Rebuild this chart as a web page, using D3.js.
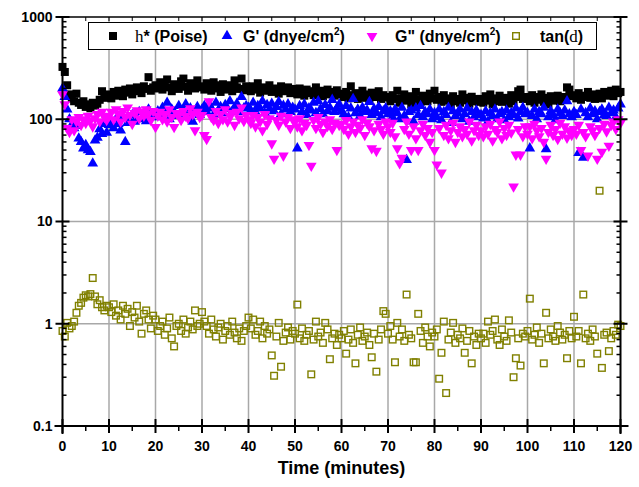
<!DOCTYPE html>
<html>
<head>
<meta charset="utf-8">
<script src="https://cdn.jsdelivr.net/npm/d3@7"></script>
<style>
  body { margin: 0; background: #fff; }
  text { font-family: "Liberation Sans", Arial, sans-serif; font-weight: bold; fill: #000; }
</style>
</head>
<body>
<div id="chart"></div>
<script>
// sampling times (minutes)
const times = [
  0,0.5,1,1.5,2,2.5,3,3.5,4,4.5,5,5.5,6,6.5,7,7.5,8,8.5,9,9.5,
  10,10.5,11,11.5,12,12.5,13,13.5,14,14.5,15,15.5,16,16.5,17,17.5,18,18.5,19,19.5,
  20,20.5,21,21.5,22,22.5,23,23.5,24,24.5,25,25.5,26,26.5,27,27.5,28,28.5,29,29.5,
  30,30.5,31,31.5,32,32.5,33,33.5,34,34.5,35,35.5,36,36.5,37,37.5,38,38.5,39,39.5,
  40,40.5,41,41.5,42,42.5,43,43.5,44,44.5,45,45.5,46,46.5,47,47.5,48,48.5,49,49.5,
  50,50.5,51,51.5,52,52.5,53,53.5,54,54.5,55,55.5,56,56.5,57,57.5,58,58.5,59,59.5,
  60,60.5,61,61.5,62,62.5,63,63.5,64,64.5,65,65.5,66,66.5,67,67.5,68,68.5,69,69.5,
  70,70.5,71,71.5,72,72.5,73,73.5,74,74.5,75,75.5,76,76.5,77,77.5,78,78.5,79,79.5,
  80,80.5,81,81.5,82,82.5,83,83.5,84,84.5,85,85.5,86,86.5,87,87.5,88,88.5,89,89.5,
  90,90.5,91,91.5,92,92.5,93,93.5,94,94.5,95,95.5,96,96.5,97,97.5,98,98.5,99,99.5,
  100,100.5,101,101.5,102,102.5,103,103.5,104,104.5,105,105.5,106,106.5,107,107.5,108,108.5,109,109.5,
  110,110.5,111,111.5,112,112.5,113,113.5,114,114.5,115,115.5,116,116.5,117,117.5,118,118.5,119,119.5,
  120
];

// h* (Poise)
const etaStar = [
  325,290,215,175,160,150,178,145,138,150,132,140,128,145,136,142,155,188,162,170,
  175,160,185,170,190,178,168,195,182,200,175,188,205,192,180,210,198,258,190,205,
  215,200,230,195,210,245,205,188,220,212,198,235,250,208,190,225,215,200,240,205,
  210,195,225,205,190,230,215,200,185,220,205,195,215,188,240,205,198,250,192,210,
  200,188,210,195,225,182,198,205,190,215,185,200,192,178,210,195,188,205,180,198,
  185,175,200,190,170,195,180,188,172,205,178,190,168,182,195,175,185,170,192,178,
  175,165,185,160,210,172,180,158,168,190,162,175,155,182,170,165,188,158,172,163,
  165,150,172,158,190,145,160,175,152,168,140,162,185,155,148,170,158,150,178,160,
  190,155,165,148,172,152,160,140,168,150,158,145,175,153,162,142,166,150,158,148,
  158,145,168,152,175,140,160,150,170,148,162,155,142,172,150,165,188,195,158,165,
  160,150,172,145,165,155,175,148,162,140,168,152,158,170,150,160,165,205,195,168,
  172,160,180,155,170,165,185,162,175,158,168,178,160,185,170,175,190,168,195,180,
  185
];

// G' (dnye/cm2)
const gPrime = [
  200,165,125,100,88,82,86,65,60,52,56,50,48,37,62,66,80,72,90,74,
  88,95,82,100,90,78,105,60,92,98,110,95,102,118,100,108,96,125,105,112,
  110,120,105,130,115,145,100,125,118,108,135,112,122,140,105,128,95,118,132,110,
  125,135,118,140,128,110,145,122,132,115,138,126,150,120,130,142,118,165,128,135,
  130,122,145,118,135,128,150,115,138,125,142,120,132,148,112,136,125,140,118,130,
  125,52,135,118,140,110,128,122,145,115,150,126,112,138,120,130,155,118,128,140,
  120,112,135,105,128,158,115,125,108,130,118,122,148,110,126,115,132,105,120,128,
  112,120,105,125,115,100,130,108,40,118,122,95,128,110,135,105,118,112,125,100,
  115,105,125,98,118,110,130,92,120,108,115,125,100,112,128,95,118,105,122,110,
  110,102,120,95,115,108,125,100,112,118,98,122,105,115,110,128,102,118,130,112,
  115,52,108,125,100,118,112,130,51,105,120,110,98,125,115,108,122,150,112,105,
  118,110,47,125,42,115,105,128,112,120,100,118,125,110,108,130,115,122,105,128,
  140
];

// G" (dnye/cm2)
const gDouble = [
  175,140,82,75,100,78,95,105,88,100,92,108,97,85,102,112,95,118,105,98,
  108,118,100,125,112,95,120,105,130,110,90,115,122,102,118,108,125,112,98,120,
  84,108,118,100,112,95,125,105,84,115,110,98,120,108,102,128,112,78,118,105,
  110,70,64,150,105,98,120,92,112,100,125,95,108,115,88,118,102,130,96,110,
  100,92,110,85,105,95,78,112,90,102,58,41,98,88,108,44,95,105,82,100,
  95,85,102,78,92,88,56,35,98,82,105,90,75,95,86,100,80,92,50,88,
  90,80,98,72,85,95,75,88,82,100,70,92,85,52,78,49,90,80,72,95,
  85,75,92,68,52,37,42,80,95,72,50,85,65,50,78,90,70,82,60,75,
  50,36,82,30,70,88,65,78,92,60,75,85,68,80,72,95,62,78,88,70,
  78,68,85,72,90,62,80,75,95,65,82,70,88,74,22,45,80,45,68,85,
  72,85,65,90,78,68,82,60,41,75,88,70,80,64,92,72,85,66,78,70,
  80,72,88,50,75,68,44,85,78,70,41,82,48,90,76,55,88,95,80,100,
  92
];

// tan(d)
const tanDelta = [
  0.85,0.75,1.02,0.9,0.95,1.05,1.28,1.5,1.6,1.8,1.9,1.85,1.95,2.8,1.85,1.55,1.7,1.45,1.35,1.5,
  1.45,1.3,1.55,1.2,1.35,1.1,1.5,1.25,1.4,0.95,1.3,1.15,1.5,1.05,0.8,1.25,1.35,1.1,0.9,1.2,
  1.1,0.85,0.95,1.05,0.78,0.9,1.15,0.72,0.6,0.95,1.0,0.85,1.1,0.8,0.92,1.05,0.88,1.35,0.95,1.0,
  1.3,1.05,0.95,0.8,1.1,0.88,0.75,0.92,1.0,0.7,0.85,0.95,0.78,1.05,0.82,0.72,0.9,0.68,0.85,0.95,
  1.15,0.9,1.1,0.78,0.85,1.05,0.72,0.95,0.8,0.88,0.49,0.31,0.75,1.02,0.38,0.68,0.82,0.92,0.7,0.85,
  0.8,1.54,0.72,0.9,0.68,0.78,0.85,0.32,0.7,1.05,0.75,0.82,0.65,1.02,0.88,0.45,0.72,0.8,0.62,0.78,
  0.72,0.85,0.51,0.7,0.88,0.65,0.41,0.78,0.92,0.68,0.75,0.82,0.62,0.47,0.8,0.34,0.7,0.88,1.33,1.25,
  0.8,0.95,0.7,0.42,1.02,0.75,0.88,0.68,1.93,0.78,0.72,0.42,0.42,1.25,0.85,0.65,0.92,0.75,0.6,0.82,
  0.75,0.88,0.29,0.52,1.05,0.21,0.7,0.82,1.02,0.65,0.78,0.72,0.9,0.52,0.68,0.85,0.41,0.75,0.62,0.8,
  0.72,0.8,0.65,1.05,0.78,0.85,1.1,0.7,0.62,0.88,0.75,0.68,1.08,0.82,0.3,0.46,0.72,0.39,0.8,0.75,
  0.85,1.76,0.7,0.78,0.92,0.65,0.8,0.41,1.28,0.72,0.88,0.75,0.68,0.95,0.82,0.7,0.78,0.46,0.85,0.72,
  1.17,0.75,0.85,0.41,1.93,0.72,0.8,0.68,0.88,0.75,0.51,20,0.37,0.78,0.82,0.54,0.72,0.85,0.78,0.98,
  0.95
];

const xTicks = [0, 10, 20, 30, 40, 50, 60, 70, 80, 90, 100, 110, 120];
const yTicks = [0.1, 1, 10, 100, 1000];
const yTickLabels = ['0.1', '1', '10', '100', '1000'];

const width = 639;
const height = 487;
const margin = { top: 17, right: 18.5, bottom: 61, left: 62.5 };

const svg = d3.select('#chart')
  .append('svg')
  .attr('width', width)
  .attr('height', height);

const x = d3.scaleLinear().domain([0, 120]).range([margin.left, width - margin.right]);
const y = d3.scaleLog().domain([0.1, 1000]).range([height - margin.bottom, margin.top]);

const x0 = x.range()[0], x1 = x.range()[1];
const y0 = y.range()[0], y1 = y.range()[1];

// grid
const grid = svg.append('g').attr('stroke', '#a8a8a8').attr('stroke-width', 1.5);
xTicks.filter(t => t > 0 && t < 120).forEach(t => {
  grid.append('line').attr('x1', x(t)).attr('x2', x(t)).attr('y1', y0).attr('y2', y1);
});
yTicks.filter(t => t > 0.1 && t < 1000).forEach(t => {
  grid.append('line').attr('x1', x0).attr('x2', x1).attr('y1', y(t)).attr('y2', y(t));
});

// markers
const pts = vals => times.map((t, i) => [t, vals[i]]);
const plot = svg.append('g');

plot.append('g').selectAll('rect')
  .data(pts(etaStar))
  .join('rect')
  .attr('x', d => x(d[0]) - 4)
  .attr('y', d => y(d[1]) - 4)
  .attr('width', 8).attr('height', 8)
  .attr('fill', '#000');

const tri = d3.symbol().type(d3.symbolTriangle).size(50);

plot.append('g').selectAll('path')
  .data(pts(gPrime))
  .join('path')
  .attr('d', tri)
  .attr('transform', d => `translate(${x(d[0])},${y(d[1])})`)
  .attr('fill', '#0000ff');

plot.append('g').selectAll('path')
  .data(pts(gDouble))
  .join('path')
  .attr('d', tri)
  .attr('transform', d => `translate(${x(d[0])},${y(d[1])}) rotate(180)`)
  .attr('fill', '#ff00ff');

plot.append('g').selectAll('rect')
  .data(pts(tanDelta))
  .join('rect')
  .attr('x', d => x(d[0]) - 3.3)
  .attr('y', d => y(d[1]) - 3.3)
  .attr('width', 6.6).attr('height', 6.6)
  .attr('fill', 'none')
  .attr('stroke', '#808000')
  .attr('stroke-width', 1.4);

// axes
const axisG = svg.append('g').attr('stroke', '#000');
const minorX = d3.range(5, 120, 10);
const minorY = [];
[0.1, 1, 10, 100].forEach(d => { for (let k = 2; k <= 9; k++) minorY.push(d * k); });

// bottom
axisG.append('line').attr('x1', x0 - 8).attr('x2', x1 + 8).attr('y1', y0).attr('y2', y0).attr('stroke-width', 2);
xTicks.forEach(t => axisG.append('line').attr('x1', x(t)).attr('x2', x(t)).attr('y1', y0 - 7).attr('y2', y0 + 7).attr('stroke-width', 2));
minorX.forEach(t => axisG.append('line').attr('x1', x(t)).attr('x2', x(t)).attr('y1', y0).attr('y2', y0 + 5).attr('stroke-width', 1.5));
// top
axisG.append('line').attr('x1', x0).attr('x2', x1).attr('y1', y1).attr('y2', y1).attr('stroke-width', 1.5);
xTicks.concat(minorX).forEach(t => axisG.append('line').attr('x1', x(t)).attr('x2', x(t)).attr('y1', y1).attr('y2', y1 + 4).attr('stroke-width', 1));
// left & right
[[x0, 1], [x1, -1]].forEach(([xx, dir]) => {
  axisG.append('line').attr('x1', xx).attr('x2', xx).attr('y1', y1).attr('y2', y0 + 8).attr('stroke-width', 2);
  yTicks.forEach(t => axisG.append('line').attr('x1', xx - 7).attr('x2', xx + 7).attr('y1', y(t)).attr('y2', y(t)).attr('stroke-width', 2));
  minorY.forEach(t => axisG.append('line').attr('x1', xx).attr('x2', xx + 4 * dir).attr('y1', y(t)).attr('y2', y(t)).attr('stroke-width', 1.5));
});

// tick labels
svg.append('g').selectAll('text')
  .data(xTicks)
  .join('text')
  .attr('x', d => x(d))
  .attr('y', y0 + 25)
  .attr('text-anchor', 'middle')
  .style('font-size', '14px')
  .text(d => d);

svg.append('g').selectAll('text')
  .data(yTicks)
  .join('text')
  .attr('x', x0 - 10)
  .attr('y', d => y(d))
  .attr('dy', '0.35em')
  .attr('text-anchor', 'end')
  .style('font-size', '14px')
  .text((d, i) => yTickLabels[i]);

svg.append('text')
  .attr('x', (x0 + x1) / 2)
  .attr('y', 474)
  .attr('text-anchor', 'middle')
  .style('font-size', '18px')
  .text('Time (minutes)');

// legend
const legend = svg.append('g');
legend.append('rect')
  .attr('x', 88.5).attr('y', 22.5).attr('width', 508).attr('height', 27)
  .attr('fill', '#fff').attr('stroke', '#000').attr('stroke-width', 1);

const ly = 36;
legend.append('rect').attr('x', 113 - 4).attr('y', ly - 4).attr('width', 8).attr('height', 8).attr('fill', '#000');
legend.append('path').attr('d', tri).attr('transform', `translate(227,${ly})`).attr('fill', '#0000ff');
legend.append('path').attr('d', tri).attr('transform', `translate(372,${ly}) rotate(180)`).attr('fill', '#ff00ff');
legend.append('rect').attr('x', 516 - 3.3).attr('y', ly - 3.3).attr('width', 6.6).attr('height', 6.6)
  .attr('fill', 'none').attr('stroke', '#808000').attr('stroke-width', 1.4);

const serif = '"Liberation Serif", "Times New Roman", serif';
const t1 = legend.append('text').attr('x', 135).attr('y', ly + 6).style('font-size', '16px');
t1.append('tspan').style('font-family', serif).style('font-weight', 'normal').style('font-size', '17px').text('h');
t1.append('tspan').text('* (Poise)');

const t2 = legend.append('text').attr('x', 243).attr('y', ly + 6).style('font-size', '16px');
t2.append('tspan').text("G' (dnye/cm");
t2.append('tspan').attr('dy', -7).style('font-size', '10px').text('2');
t2.append('tspan').attr('dy', 7).text(')');

const t3 = legend.append('text').attr('x', 395).attr('y', ly + 6).style('font-size', '16px');
t3.append('tspan').text('G" (dnye/cm');
t3.append('tspan').attr('dy', -7).style('font-size', '10px').text('2');
t3.append('tspan').attr('dy', 7).text(')');

const t4 = legend.append('text').attr('x', 540).attr('y', ly + 6).style('font-size', '16px');
t4.append('tspan').text('tan(');
t4.append('tspan').style('font-family', serif).style('font-weight', 'normal').style('font-size', '17px').text('d');
t4.append('tspan').text(')');
</script>
</body>
</html>
